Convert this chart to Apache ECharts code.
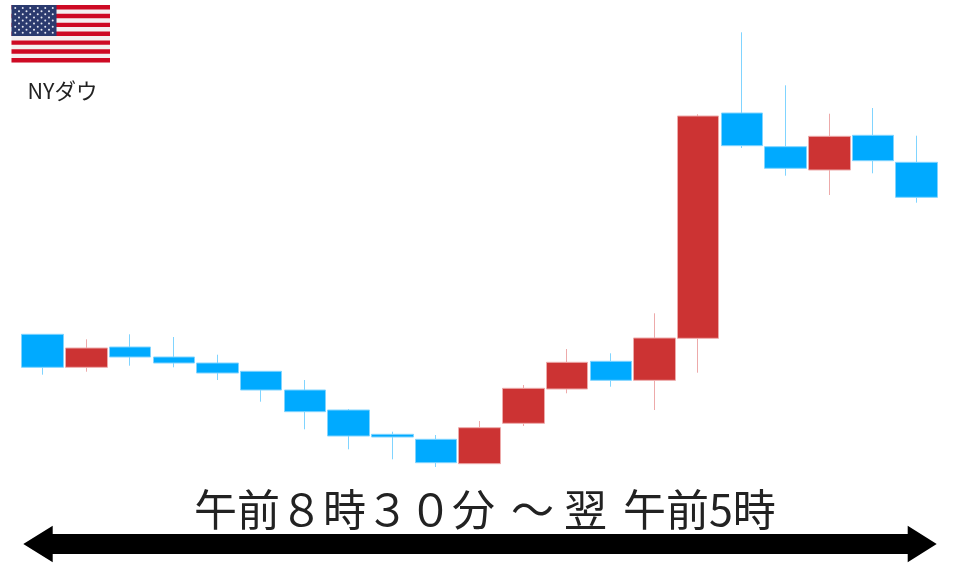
<!DOCTYPE html>
<html>
<head>
<meta charset="utf-8">
<style>html,body{margin:0;padding:0;background:#fff}#c{width:960px;height:567px}</style>
<script src="https://cdn.jsdelivr.net/npm/echarts@6/dist/echarts.min.js"></script>
</head>
<body>
<div id="c"></div>
<script>
// Values are on an arbitrary scale (bigger = higher)
const categories = ['1','2','3','4','5','6','7','8','9','10','11','12','13','14','15','16','17','18','19','20','21'];
const opens  = [232.7,199.7,220,210,204,195.7,177,157,132.7,127.7,103.3,143.7,178,205.7,186.7,228.7,454,420.3,397,431.7,404.7];
const closes = [199.7,219,210,204,194,177,155.3,131,130,104.3,139.3,178.7,204.7,186.7,229,451,421.3,398.7,430.7,406.3,369.7];
const lows   = [192.3,195.3,201.3,199.7,187,165.3,137.7,117.7,107.7,100,103.3,141,173.7,180.3,157,194.3,419,391.3,372,393.7,364.3];
const highs  = [232.7,227.7,232.7,230,212.3,195.7,187,158,135.3,132,146,182,218,213.7,253.7,452.7,534.7,481.7,453.3,459,431.3];
const yMin = 0, yMax = 567;

const timeLabels = ['午前８時３０分', '～', '翌', '午前5時'];
const flagLabel = 'NYダウ';

const UP = '#CC3333', DOWN = '#00AAFF', UP_EDGE = '#EDAAAA', DOWN_EDGE = '#80D4FF';
const FONT = '"Noto Sans CJK JP"';

// Decoration: flag
const flag = [];
const fx = 11.5, fy = 5, fw = 98.5, fh = 57.5, sh = fh / 13;
flag.push({type:'rect', shape:{x:fx,y:fy,width:fw,height:fh}, style:{fill:'#F4F0F0'}});
for (let i = 0; i < 13; i += 2) {
  flag.push({type:'rect', shape:{x:fx,y:fy+i*sh,width:fw,height:sh}, style:{fill:'#CE0A24'}});
}
const cw = 45, ch = sh * 7;
flag.push({type:'rect', shape:{x:fx,y:fy,width:cw,height:ch}, style:{fill:'#2B3A6E'}});
for (let r = 0; r < 9; r++) {
  const n = r % 2 ? 5 : 6;
  for (let k = 0; k < n; k++) {
    const sx = fx + cw * ((k * 2 + (r % 2 ? 2 : 1)) / 12);
    const sy = fy + ch * ((r + 1) / 10);
    flag.push({type:'circle', shape:{cx:sx,cy:sy,r:1}, style:{fill:'#E6E8F2'}});
  }
}

const timeX = [194, 511, 564, 623];
const timeText = timeLabels.map((t,i)=>({type:'text',x:timeX[i],y:510,style:{text:t,font:'43px '+FONT,fill:'#222',textAlign:'left',textVerticalAlign:'middle'}}));

const chart = echarts.init(document.getElementById('c'), null, {renderer:'canvas'});
chart.setOption({
  animation:false,
  backgroundColor:'#fff',
  grid:{left:20.8,top:0,width:917.7,height:567},
  xAxis:{type:'category',data:categories,show:false},
  yAxis:{type:'value',min:yMin,max:yMax,show:false,splitLine:{show:false}},
  series:[{
    type:'candlestick',
    barWidth:42,
    data:categories.map((_,i)=>[opens[i],closes[i],lows[i],highs[i]]),
    itemStyle:{color:UP,color0:DOWN,borderColor:UP_EDGE,borderColor0:DOWN_EDGE,borderWidth:1}
  }],
  graphic:{elements:[
    ...flag,
    {type:'text',x:62.5,y:91,style:{text:flagLabel,font:'21.5px '+FONT,fill:'#222',textAlign:'center',textVerticalAlign:'middle'}},
    ...timeText,
    {type:'polygon',shape:{points:[[23.3,544],[52.7,525.7],[52.7,534],[907.7,534],[907.7,525.7],[936.7,544],[907.7,562.3],[907.7,554],[52.7,554],[52.7,562.3]]},style:{fill:'#000'}}
  ]}
});
</script>
</body>
</html>
